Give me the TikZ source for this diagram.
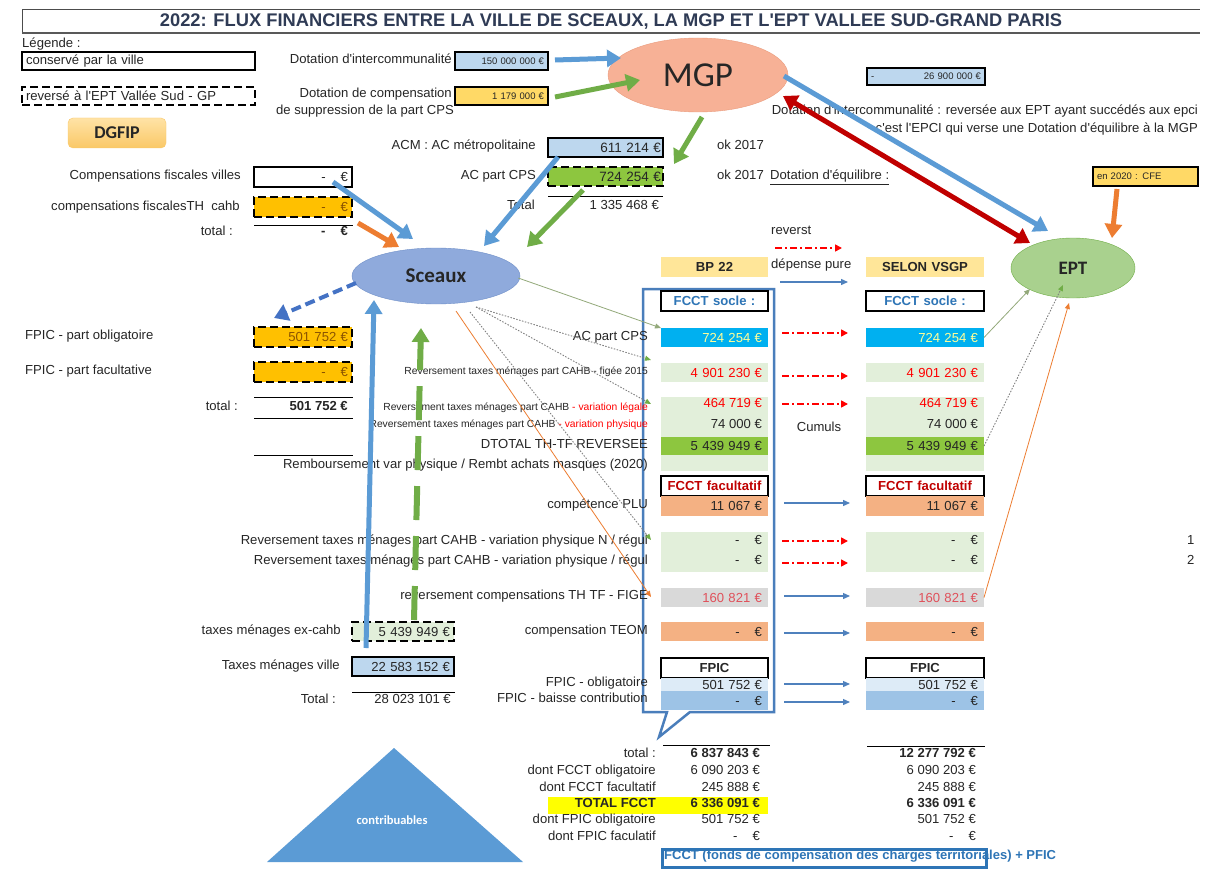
\documentclass[tikz,border=0pt]{standalone}
\usepackage{fontspec}
\setmainfont{Liberation Sans}
\newfontfamily\calfont{Carlito}
\usetikzlibrary{arrows.meta,shapes.geometric}
\newcommand\FsN{\fontsize{13.1}{15}\selectfont}
\newcommand\FsS{\fontsize{10.3}{12}\selectfont}
\newcommand\FsT{\fontsize{9.5}{11}\selectfont}
\newcommand\ZeroEur{-\hspace{15pt}€}
\newcommand\Apos{\textquotesingle}
\definecolor{txt}{HTML}{262626}
\definecolor{navy}{HTML}{2F3B55}
\definecolor{lblue}{HTML}{BDD7EE}
\definecolor{gold}{HTML}{FFC000}
\definecolor{gtxt}{HTML}{8A5300}
\definecolor{yel}{HTML}{FFD966}
\definecolor{hdr}{HTML}{FFE699}
\definecolor{grn}{HTML}{8DC63F}
\definecolor{lgrn}{HTML}{E2EFDA}
\definecolor{cyn}{HTML}{00B0F0}
\definecolor{cyntxt}{HTML}{FFFF99}
\definecolor{org}{HTML}{F4B183}
\definecolor{gry}{HTML}{D9D9D9}
\definecolor{fpl}{HTML}{DDEBF7}
\definecolor{fpd}{HTML}{9DC3E6}
\definecolor{ablue}{HTML}{5B9BD5}
\definecolor{dblue}{HTML}{4472C4}
\definecolor{agreen}{HTML}{70AD47}
\definecolor{aorange}{HTML}{ED7D31}
\definecolor{ared}{HTML}{C00000}
\definecolor{mgpc}{HTML}{F7B196}
\definecolor{mgpd}{HTML}{EA9C7E}
\definecolor{scxc}{HTML}{8FAADC}
\definecolor{scxd}{HTML}{6F8FC8}
\definecolor{eptc}{HTML}{A9D18E}
\definecolor{eptd}{HTML}{70AD47}
\definecolor{lineblue}{HTML}{4F81BD}
\definecolor{callc}{HTML}{4A7EBB}
\definecolor{fcctblue}{HTML}{2E75B6}
\definecolor{trib}{HTML}{5B9BD5}
\definecolor{thing}{HTML}{93A97A}
\definecolor{lred}{HTML}{E0505A}
\definecolor{dgA}{HTML}{FFE3A6}
\definecolor{dgB}{HTML}{FAC867}
\definecolor{hlyel}{HTML}{FFFF00}
\tikzset{
 lbl/.style={anchor=mid east, inner sep=0pt},
 lblw/.style={anchor=mid west, inner sep=0pt},
 valr/.style={anchor=mid east, inner sep=0pt},
 cellbox/.style={anchor=north west, inner xsep=4pt, inner ysep=0pt, align=right, outer sep=0pt},
 bdr/.style={draw=black, line width=2.2pt},
 dsh/.style={draw=black, line width=2.2pt, dash pattern=on 8pt off 4pt},
 colA/.style={cellbox, inner xsep=6pt, text width=95pt},
 colB/.style={cellbox, inner xsep=6pt, text width=106pt},
 fatarr/.style={line width=5pt, -{Triangle[length=14pt,width=17pt]}},
 thinarr/.style={line width=0.8pt, -{Triangle[length=6pt,width=5pt]}},
 dotarr/.style={gray, line width=0.9pt, dash pattern=on 1.5pt off 1.5pt, -{Triangle[length=6pt,width=5pt,color=agreen]}},
 rdd/.style={red, line width=1.6pt, dash pattern=on 7pt off 3pt on 2pt off 3pt, -{Triangle[length=7pt,width=7pt]}},
 barr/.style={lineblue, line width=1.3pt, -{Triangle[length=7pt,width=6pt]}},
 hrule/.style={line width=1pt, black}
}
\begin{document}
\begin{tikzpicture}[x=1pt,y=-1pt, every node/.style={text=txt, font=\FsN}]
\useasboundingbox (0,0) rectangle (1226,888);
\fill[white] (0,0) rectangle (1226,888);

% ---------- title ----------
\draw[line width=1pt, black!70] (22,33) -- (22,10) -- (1200,10);
\draw[line width=2pt, black!65] (22,33) -- (1200,33);
\node[font=\bfseries\fontsize{18.3}{20}\selectfont, text=navy] (title) at (611,21.5) {2022: FLUX FINANCIERS ENTRE LA VILLE DE SCEAUX, LA MGP ET L\Apos EPT VALLEE SUD-GRAND PARIS};

% ---------- legend ----------
\node[lblw] (leg) at (22,45) {Légende :};
\node[cellbox, bdr, text width=225pt, minimum height=18pt, align=left] (leg1) at (22,52) {conservé par la ville};
\node[cellbox, dsh, text width=225pt, minimum height=18pt, align=left] (leg2) at (22,87) {reversé à l\Apos EPT Vallée Sud - GP};
\node[rounded corners=5pt, top color=dgA, bottom color=dgB, draw=dgB, minimum width=98pt, minimum height=30pt, font=\calfont\bfseries\fontsize{18}{20}\selectfont] (dgfip) at (117,133) {DGFIP};

% ---------- top dotations ----------
\node[lbl] (ldi) at (452,61) {Dotation d\Apos intercommunalité};
\node[cellbox, bdr, fill=lblue, text width=85pt, minimum height=18pt, font=\FsT] (kdi) at (455,52) {150 000 000 €};
\node[lbl] (ldc1) at (452,95) {Dotation de compensation};
\node[lbl] (ldc2) at (454,112) {de suppression de la part CPS};
\node[cellbox, bdr, fill=yel, text width=85pt, minimum height=18pt, font=\FsT] (kdc) at (455,87) {1 179 000 €};

\node[ellipse, fill=mgpc, draw=mgpd, minimum width=180pt, minimum height=74pt, inner sep=0pt, font=\calfont\fontsize{35}{40}\selectfont] (mgp) at (698,75) {MGP};

\node[cellbox, bdr, fill=lblue, text width=110pt, minimum height=17pt, font=\FsT] (k26) at (867,68) {-\hfill 26 900 000 €};
\node[lbl] (n1) at (1198,112) {Dotation d\Apos intercommunalité : reversée aux EPT ayant succédés aux epci};
\node[lbl] (n2) at (1198,130) {c\Apos est l\Apos EPCI qui verse une Dotation d\Apos équilibre à la MGP};

% ---------- ACM ----------
\node[lbl] (lacm) at (536,147) {ACM : AC métropolitaine};
\node[cellbox, bdr, fill=lblue, inner xsep=2pt, text width=111pt, minimum height=19pt, font=\fontsize{13.5}{15}\selectfont] (kacm) at (548,138) {611 214 €};
\node[lbl] (lacps) at (536,177) {AC part CPS};
\node[cellbox, dsh, fill=grn, inner xsep=2pt, text width=111pt, minimum height=19pt, font=\fontsize{13.5}{15}\selectfont] (kacps) at (548,167) {724 254 €};
\draw[hrule] (548,196) -- (663,196);
\node[lbl] (ltot0) at (535,207) {Total};
\node[valr] (vtot0) at (659,207) {1 335 468 €};
\node[lblw] (ok1) at (717,147) {ok 2017};
\node[lblw] (ok2) at (717,177) {ok 2017};
\node[lblw] (deq) at (770,177) {\underline{Dotation d\Apos équilibre :}};
\node[cellbox, bdr, fill=yel, text width=97pt, minimum height=19pt, align=left, font=\FsT] (kcfe) at (1093,167) {en 2020 : CFE};

% ---------- left column ----------
\node[lbl] (lcfv) at (241,177) {Compensations fiscales villes};
\node[cellbox, bdr, fill=white, text width=90pt, minimum height=20pt] (kcfv) at (254,167) {\ZeroEur};
\node[lbl] (lcth) at (240,208) {compensations fiscalesTH~ cahb};
\node[cellbox, dsh, fill=gold, text width=90pt, minimum height=20pt, text=gtxt] (kcth) at (254,197) {\ZeroEur};
\draw[hrule] (254,225) -- (353,225);
\node[lbl] (ltot1) at (233,233) {total :};
\node[valr] (vtot1) at (348,233) {\bfseries\ZeroEur};

\node[lblw] (lfpo) at (25,337) {FPIC - part obligatoire};
\node[cellbox, dsh, fill=gold, text width=90pt, minimum height=20pt, text=gtxt] (kfpo) at (254,327) {501 752 €};
\node[lblw] (lfpf) at (25,372) {FPIC - part facultative};
\node[cellbox, dsh, fill=gold, text width=90pt, minimum height=20pt, text=gtxt] (kfpf) at (254,362) {\ZeroEur};
\draw[hrule] (254,397) -- (353,397);
\node[lbl] (ltot2) at (238,408) {total :};
\node[valr] (vtot2) at (348,408) {\bfseries 501 752 €};
\draw[hrule] (254,418) -- (353,418);
\draw[hrule] (254,455) -- (353,455);

\node[lbl] (ltmx) at (341,632) {taxes ménages ex-cahb};
\node[cellbox, dsh, fill=lgrn, text width=94pt, minimum height=19pt] (ktmx) at (352,622) {5 439 949 €};
\node[lbl] (ltmv) at (340,667) {Taxes ménages ville};
\node[cellbox, bdr, fill=lblue, text width=94pt, minimum height=19pt] (ktmv) at (352,657) {22 583 152 €};
\draw[hrule] (352,692) -- (455,692);
\node[lbl] (ltot3) at (336,701) {Total :};
\node[valr] (vtot3) at (451,701) {28 023 101 €};

% ---------- ellipses ----------
\node[ellipse, fill=scxc, draw=scxd, minimum width=168pt, minimum height=56pt, inner sep=0pt, font=\calfont\bfseries\fontsize{21}{24}\selectfont] (scx) at (436,276) {Sceaux};
\node[ellipse, fill=eptc, draw=eptd, minimum width=124pt, minimum height=60pt, inner sep=0pt, font=\calfont\bfseries\fontsize{19}{22}\selectfont] (ept) at (1073,268) {EPT};

% ---------- callout ----------
\draw[callc, line width=2.5pt, line join=miter] (643,289) -- (774,289) -- (774,712) -- (690,712) -- (659,737) -- (667,712) -- (643,712) -- cycle;

% ---------- middle labels ----------
\node[lblw] (lrev) at (771,232) {reverst};
\node[lblw] (ldep) at (771,266) {dépense pure};
\node[lbl] (m1) at (648,338) {AC part CPS};
\node[lbl, font=\FsS] (m2) at (648,372) {Reversement taxes ménages part CAHB - figée 2015};
\node[lbl, font=\FsS] (m3) at (648,408) {Reversement taxes ménages part CAHB {\color{red}- variation légale}};
\node[lbl, font=\FsS] (m4) at (648,425) {Reversement taxes ménages part CAHB {\color{red}- variation physique}};
\node[lbl] (m5) at (648,446) {DTOTAL TH-TF REVERSEE};
\node[lbl] (m6) at (648,466) {Remboursement var physique / Rembt achats masques (2020)};
\node[lbl] (m7) at (648,506) {compétence PLU};
\node[lbl] (m8) at (648,542) {Reversement taxes ménages part CAHB - variation physique N / régul};
\node[lbl] (m9) at (648,562) {Reversement taxes ménages part CAHB - variation physique / régul};
\node[lbl] (m10) at (648,597) {reversement compensations TH TF - FIGE};
\node[lbl] (m11) at (648,632) {compensation TEOM};
\node[lbl] (m12) at (648,684) {FPIC - obligatoire};
\node[lbl] (m13) at (648,700) {FPIC - baisse contribution};
\node (cum) at (819,427) {Cumuls};
\node[lblw] (one) at (1187,542) {1};
\node[lblw] (two) at (1187,562) {2};

% ---------- BP 22 column ----------
\node[colA, fill=hdr, minimum height=20pt, align=center, font=\bfseries\FsN] (ahdr) at (661,257) {BP 22};
\node[colA, bdr, fill=white, minimum height=20pt, align=center, font=\bfseries\FsN, text=fcctblue] (asoc) at (661,291) {FCCT socle :};
\node[colA, fill=cyn, minimum height=19pt, text=cyntxt] (acps) at (661,328) {724 254 €};
\node[colA, fill=lgrn, minimum height=19pt, text=red] (afig) at (661,363) {4 901 230 €};
\node[colA, fill=lgrn, minimum height=40pt] (avar) at (661,397) {};
\node[valr, text=red] (avar1) at (762,405) {464 719 €};
\node[valr] (avar2) at (762,426) {74 000 €};
\node[colA, fill=grn, minimum height=18pt] (atot) at (661,437) {5 439 949 €};
\node[colA, fill=lgrn, minimum height=16pt] (arem) at (661,455) {};
\node[colA, bdr, fill=white, minimum height=20pt, align=center, font=\bfseries\FsN, text=ared] (afac) at (661,476) {FCCT facultatif};
\node[colA, fill=org, minimum height=20pt] (aplu) at (661,496) {11 067 €};
\node[colA, fill=lgrn, minimum height=40pt] (areg) at (661,532) {};
\node[valr] (areg1) at (762,542) {\ZeroEur};
\node[valr] (areg2) at (762,562) {\ZeroEur};
\node[colA, fill=gry, minimum height=19pt, text=lred] (afige) at (661,588) {160 821 €};
\node[colA, fill=org, minimum height=19pt] (ateom) at (661,622) {\ZeroEur};
\node[colA, bdr, fill=white, minimum height=20pt, align=center, font=\bfseries\FsN] (afpic) at (661,658) {FPIC};
\node[colA, fill=fpl, minimum height=13pt] (afpo) at (661,678) {501 752 €};
\node[colA, fill=fpd, minimum height=19pt] (afpb) at (661,691) {\ZeroEur};

% ---------- SELON VSGP column ----------
\node[colB, fill=hdr, minimum height=20pt, align=center, font=\bfseries\FsN] (shdr) at (866,257) {SELON VSGP};
\node[colB, bdr, fill=white, minimum height=20pt, align=center, font=\bfseries\FsN, text=fcctblue] (ssoc) at (866,291) {FCCT socle :};
\node[colB, fill=cyn, minimum height=19pt, text=cyntxt] (scps) at (866,328) {724 254 €};
\node[colB, fill=lgrn, minimum height=19pt, text=red] (sfig) at (866,363) {4 901 230 €};
\node[colB, fill=lgrn, minimum height=40pt] (svar) at (866,397) {};
\node[valr, text=red] (svar1) at (978,405) {464 719 €};
\node[valr] (svar2) at (978,426) {74 000 €};
\node[colB, fill=grn, minimum height=18pt] (stot) at (866,437) {5 439 949 €};
\node[colB, fill=lgrn, minimum height=16pt] (srem) at (866,455) {};
\node[colB, bdr, fill=white, minimum height=20pt, align=center, font=\bfseries\FsN, text=ared] (sfac) at (866,476) {FCCT facultatif};
\node[colB, fill=org, minimum height=20pt] (splu) at (866,496) {11 067 €};
\node[colB, fill=lgrn, minimum height=40pt] (sreg) at (866,532) {};
\node[valr] (sreg1) at (978,542) {\ZeroEur};
\node[valr] (sreg2) at (978,562) {\ZeroEur};
\node[colB, fill=gry, minimum height=19pt, text=lred] (sfige) at (866,588) {160 821 €};
\node[colB, fill=org, minimum height=19pt] (steom) at (866,622) {\ZeroEur};
\node[colB, bdr, fill=white, minimum height=20pt, align=center, font=\bfseries\FsN] (sfpic) at (866,658) {FPIC};
\node[colB, fill=fpl, minimum height=13pt] (sfpo) at (866,678) {501 752 €};
\node[colB, fill=fpd, minimum height=19pt] (sfpb) at (866,691) {\ZeroEur};

% ---------- middle arrows ----------
\coordinate (r0a) at (775,248); \coordinate (r0b) at (842,248);
\coordinate (b0a) at (780,282); \coordinate (b0b) at (848,282);
\draw[rdd] (r0a) -- (r0b);
\draw[barr] (b0a) -- (b0b);
\draw[rdd] (acps.east |- 0,333) ++(14,0) coordinate (r1a) -- ++(66,0) coordinate (r1b);
\draw[rdd] (afig.east |- 0,376) ++(14,0) coordinate (r2a) -- ++(66,0) coordinate (r2b);
\draw[rdd] (avar.east |- 0,404) ++(14,0) coordinate (r3a) -- ++(66,0) coordinate (r3b);
\draw[barr] (aplu.east |- 0,503) ++(16,0) coordinate (b1a) -- ++(66,0) coordinate (b1b);
\draw[rdd] (areg.east |- 0,541) ++(14,0) coordinate (r4a) -- ++(66,0) coordinate (r4b);
\draw[rdd] (areg.east |- 0,563) ++(14,0) coordinate (r5a) -- ++(66,0) coordinate (r5b);
\draw[barr] (afige.east |- 0,596) ++(16,0) coordinate (b2a) -- ++(66,0) coordinate (b2b);
\draw[barr] (ateom.east |- 0,633) ++(16,0) coordinate (b3a) -- ++(66,0) coordinate (b3b);
\draw[barr] (afpo.east |- 0,684) ++(16,0) coordinate (b4a) -- ++(66,0) coordinate (b4b);
\draw[barr] (afpb.east |- 0,702) ++(16,0) coordinate (b5a) -- ++(66,0) coordinate (b5b);

% ---------- bottom totals ----------
\fill[hlyel] (548,797) rectangle (768,814);
\draw[hrule] (663,745) -- (770,745);
\draw[hrule] (867,746) -- (985,746);
\node[lbl] (t1) at (656,755) {total :};
\node[valr, font=\bfseries\FsN] (t1a) at (760,755) {6 837 843 €};
\node[valr, font=\bfseries\FsN] (t1b) at (976,755) {12 277 792 €};
\node[lbl] (t2) at (656,772) {dont FCCT obligatoire};
\node[valr] (t2a) at (760,772) {6 090 203 €};
\node[valr] (t2b) at (976,772) {6 090 203 €};
\node[lbl] (t3) at (656,789) {dont FCCT facultatif};
\node[valr] (t3a) at (760,789) {245 888 €};
\node[valr] (t3b) at (976,789) {245 888 €};
\node[lbl, font=\bfseries\FsN] (t4) at (656,805) {TOTAL FCCT};
\node[valr, font=\bfseries\FsN] (t4a) at (760,805) {6 336 091 €};
\node[valr, font=\bfseries\FsN] (t4b) at (976,805) {6 336 091 €};
\node[lbl] (t5) at (656,821) {dont FPIC obligatoire};
\node[valr] (t5a) at (760,821) {501 752 €};
\node[valr] (t5b) at (976,821) {501 752 €};
\node[lbl] (t6) at (656,838) {dont FPIC faculatif};
\node[valr] (t6a) at (760,838) {\ZeroEur};
\node[valr] (t6b) at (976,838) {\ZeroEur};

\node[draw=fcctblue, line width=2.5pt, anchor=north west, minimum width=324pt, minimum height=18pt, inner sep=0pt] (fcctbox) at (661,848) {};
\node[lblw, text=fcctblue, font=\bfseries\fontsize{13}{15}\selectfont] (fccttxt) at (664,857) {FCCT (fonds de compensation des charges territoriales) + PFIC};

% ---------- contribuables ----------
\fill[trib] (267,862) -- (394,748) -- (523,862) -- cycle;
\node[text=white, font=\calfont\bfseries\fontsize{12.5}{14}\selectfont] (contrib) at (392,820) {contribuables};

% ---------- thin connectors ----------
\draw[thinarr, thing] (scx.east) ++(-2,2) coordinate (sc1) -- (acps.west |- 0,328) coordinate (e1);
\coordinate (sc2) at (476,307);
\coordinate (sc3) at (470,312);
\coordinate (sc4) at (456,311);
\draw[dotarr] (sc2) -- (651,360) coordinate (e2);
\draw[dotarr] (sc2) -- (651,404) coordinate (e3);
\draw[dotarr] (sc3) -- (651,540) coordinate (e4);
\draw[thinarr, aorange] (sc4) -- (651,597) coordinate (e5);
\draw[thinarr, thing] (scps.east) -- (1030,289) coordinate (e6);
\draw[dotarr] (stot.east) -- (1063,285) coordinate (e7);
\draw[thinarr, aorange] (sfige.east) -- (1069,303) coordinate (e8);

% ---------- fat arrows ----------
\coordinate (f1a) at (555,60); \coordinate (f1b) at (621,58);
\coordinate (f2a) at (555,97); \coordinate (f2b) at (640,80);
\coordinate (f3a) at (702,117); \coordinate (f3b) at (674,164);
\coordinate (f4a) at (783,96); \coordinate (f4b) at (1030,243);
\coordinate (f5a) at (784,76); \coordinate (f5b) at (1048,231);
\coordinate (f6a) at (1117,189); \coordinate (f6b) at (1112,238);
\coordinate (f7a) at (333,182); \coordinate (f7b) at (413,239);
\coordinate (f8a) at (358,223); \coordinate (f8b) at (399,247);
\coordinate (f9a) at (558,157); \coordinate (f9b) at (484,246);
\coordinate (f10a) at (583,190); \coordinate (f10b) at (527,247);
\coordinate (f11a) at (356,283); \coordinate (f11b) at (274,318);
\coordinate (f12a) at (366,648); \coordinate (f12b) at (374,300);
\coordinate (f13a) at (414,620); \coordinate (f13b) at (421,328);
\draw[fatarr, ablue] (f1a) -- (f1b);
\draw[fatarr, agreen] (f2a) -- (f2b);
\draw[fatarr, agreen] (f3a) -- (f3b);
\draw[line width=5pt, ared, {Triangle[length=14pt,width=17pt]}-{Triangle[length=14pt,width=17pt]}] (f4a) -- (f4b);
\draw[fatarr, ablue] (f5a) -- (f5b);
\draw[fatarr, aorange] (f6a) -- (f6b);
\draw[fatarr, ablue] (f7a) -- (f7b);
\draw[fatarr, aorange] (f8a) -- (f8b);
\draw[fatarr, ablue] (f9a) -- (f9b);
\draw[fatarr, agreen] (f10a) -- (f10b);
\draw[fatarr, dblue, line width=4pt, dash pattern=on 10pt off 5pt] (f11a) -- (f11b);
\draw[fatarr, ablue] (f12a) -- (f12b);
\draw[fatarr, agreen, line width=6pt, dash pattern=on 34pt off 16pt] (f13a) -- (f13b);
\end{tikzpicture}
\end{document}
